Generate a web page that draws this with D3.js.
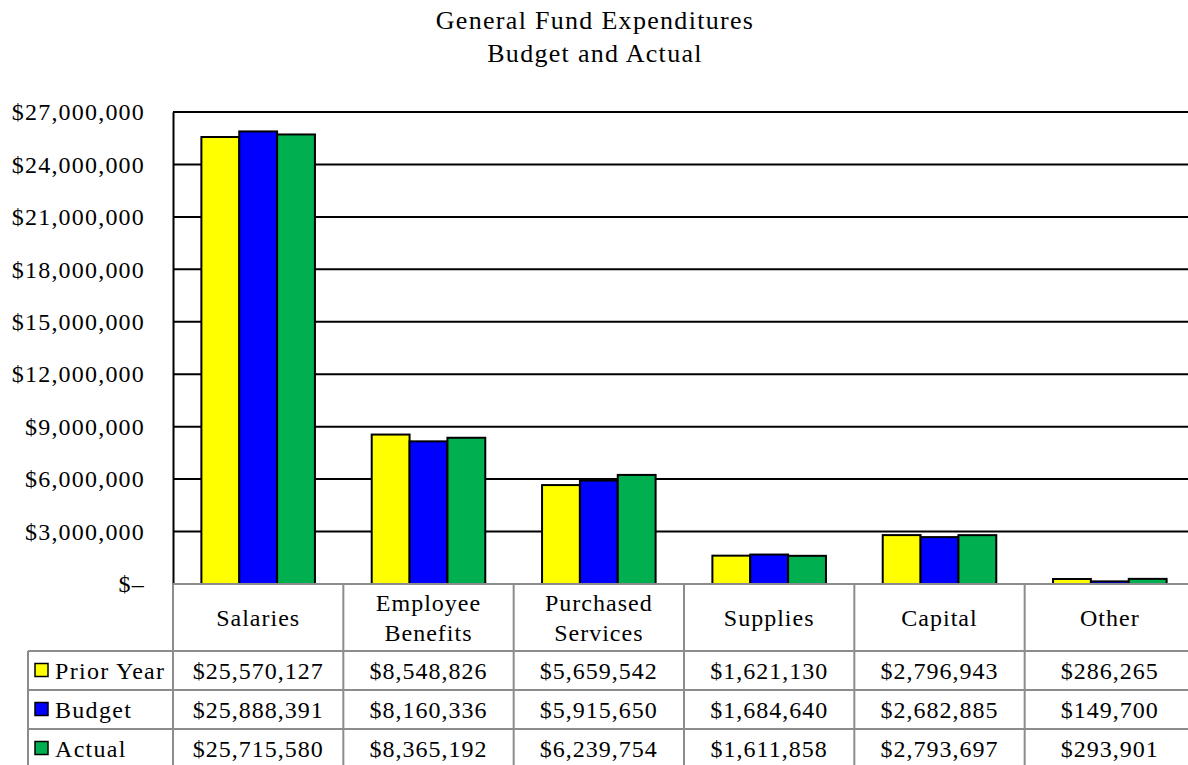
<!DOCTYPE html>
<html>
<head>
<meta charset="utf-8">
<script src="https://cdn.jsdelivr.net/npm/d3@7"></script>
<style>
  body { margin: 0; background: #fff; }
  text { font-family: "Liberation Serif", "Times New Roman", serif; fill: #000; }
</style>
</head>
<body>
<div id="chart"></div>
<script>
// General Fund Expenditures - Budget and Actual
var categories = ["Salaries", "Employee\nBenefits", "Purchased\nServices", "Supplies", "Capital", "Other"];
var series = ["Prior Year", "Budget", "Actual"];
var data_prior = [25570127, 8548826, 5659542, 1621130, 2796943, 286265];
var data_budget = [25888391, 8160336, 5915650, 1684640, 2682885, 149700];
var data_actual = [25715580, 8365192, 6239754, 1611858, 2793697, 293901];
var yTicks = [0, 3000000, 6000000, 9000000, 12000000, 15000000, 18000000, 21000000, 24000000, 27000000];
var color = ["#ffff00", "#0000ff", "#00b050"];
var values = [data_prior, data_budget, data_actual];

var W = 1188, H = 765;
var svg = d3.select("#chart").append("svg").attr("width", W).attr("height", H);

var plotLeft = 173, plotTop = 112, plotBottom = 584, plotRight = 1195;
var rowH = 39, headH = 67;

var x = d3.scaleBand().domain(d3.range(categories.length)).range([plotLeft, plotRight]);
var xs = d3.scaleBand().domain(d3.range(series.length)).range([0, x.bandwidth()]).paddingOuter(0.75);
var y = d3.scaleLinear().domain([0, 27000000]).range([plotBottom, plotTop]);

// title
svg.append("text").attr("x", 595).attr("y", 29).attr("text-anchor", "middle")
  .style("font-size", "26px").style("letter-spacing", "1.3px").text("General Fund Expenditures");
svg.append("text").attr("x", 595).attr("y", 62).attr("text-anchor", "middle")
  .style("font-size", "26px").style("letter-spacing", "1.3px").text("Budget and Actual");

// gridlines
svg.append("g").selectAll("line").data(yTicks.filter(function (d) { return d > 0; })).enter()
  .append("line")
  .attr("x1", plotLeft).attr("x2", W)
  .attr("y1", function (d) { return y(d); }).attr("y2", function (d) { return y(d); })
  .style("stroke", "#000").style("stroke-width", 2);

// y axis
var yAxis = d3.axisLeft(y).tickValues(yTicks).tickSize(0).tickPadding(28)
  .tickFormat(function (d) { return d === 0 ? "$\u2013" : d3.format("$,")(d); });
var ga = svg.append("g").attr("transform", "translate(" + plotLeft + ",0)").call(yAxis);
ga.select(".domain").style("stroke", "#000").style("stroke-width", 2);
ga.selectAll("text").style("font-size", "24px").style("letter-spacing", "1.2px")
  .attr("font-family", "Liberation Serif").attr("fill", "#000");

// bars
series.forEach(function (s, j) {
  svg.append("g").selectAll("rect").data(values[j]).enter().append("rect")
    .attr("x", function (d, i) { return x(i) + xs(j); })
    .attr("y", function (d) { return y(d); })
    .attr("width", xs.bandwidth())
    .attr("height", function (d) { return plotBottom - y(d); })
    .attr("fill", color[j])
    .style("stroke", "#000").style("stroke-width", 2);
});

// data table
var grey = "#8c8c8c";
var tableBottom = plotBottom + headH + rowH * 3;
var legendLeft = 28;
var tbl = svg.append("g");
// horizontal lines
tbl.append("line").attr("x1", plotLeft).attr("x2", W).attr("y1", plotBottom).attr("y2", plotBottom)
  .style("stroke", grey).style("stroke-width", 2);
for (var r = 0; r < 3; r++) {
  tbl.append("line").attr("x1", legendLeft).attr("x2", W)
    .attr("y1", plotBottom + headH + r * rowH).attr("y2", plotBottom + headH + r * rowH)
    .style("stroke", grey).style("stroke-width", 2);
}
// vertical lines
tbl.append("line").attr("x1", legendLeft).attr("x2", legendLeft)
  .attr("y1", plotBottom + headH).attr("y2", tableBottom).style("stroke", grey).style("stroke-width", 2);
categories.forEach(function (c, i) {
  tbl.append("line").attr("x1", x(i)).attr("x2", x(i)).attr("y1", plotBottom).attr("y2", tableBottom)
    .style("stroke", grey).style("stroke-width", 2);
});

// category labels
categories.forEach(function (c, i) {
  var lines = c.split("\n");
  var cx = x(i) + x.bandwidth() / 2;
  lines.forEach(function (ln, k) {
    tbl.append("text").attr("x", cx)
      .attr("y", plotBottom + headH / 2 + 8 + (k - (lines.length - 1) / 2) * 30)
      .attr("text-anchor", "middle").style("font-size", "24px").style("letter-spacing", "1px")
      .text(ln);
  });
});

// rows
series.forEach(function (s, j) {
  var ry = plotBottom + headH + j * rowH;
  tbl.append("rect").attr("x", 35).attr("y", ry + rowH / 2 - 7).attr("width", 13).attr("height", 13)
    .attr("fill", color[j]).style("stroke", "#000").style("stroke-width", 1.5);
  tbl.append("text").attr("x", 55).attr("y", ry + rowH / 2 + 8)
    .style("font-size", "24px").style("letter-spacing", "1.3px").text(s);
  values[j].forEach(function (v, i) {
    tbl.append("text").attr("x", x(i) + x.bandwidth() / 2).attr("y", ry + rowH / 2 + 8)
      .attr("text-anchor", "middle").style("font-size", "24px").style("letter-spacing", "1px")
      .text(d3.format("$,")(v));
  });
});
</script>
</body>
</html>
